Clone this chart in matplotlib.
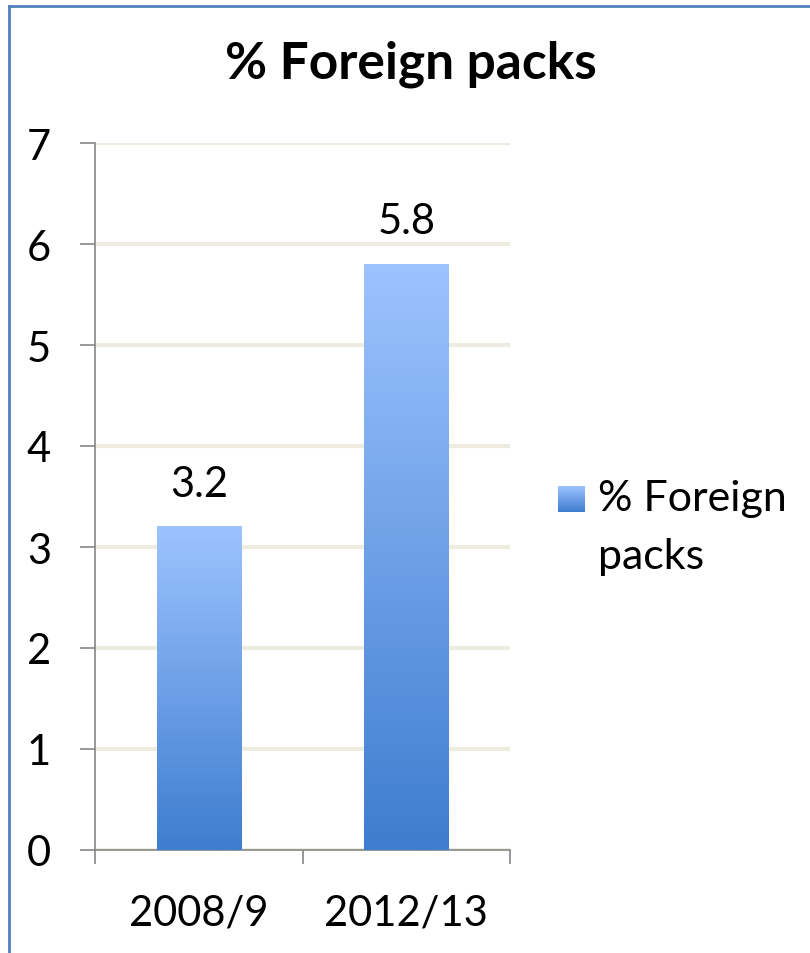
import numpy as np
import matplotlib
matplotlib.use("Agg")
import matplotlib.pyplot as plt
from matplotlib.colors import LinearSegmentedColormap
from matplotlib.lines import Line2D

plt.rcParams['font.family'] = ['Lato', 'DejaVu Sans']

# data
categories = ['2008/9', '2012/13']
values = [3.2, 5.8]
series_name = '% Foreign packs'
title = '% Foreign packs'

W, H = 810, 954
fig = plt.figure(figsize=(W / 100, H / 100), dpi=100)

# outer blue frame (only top and left visible)
fig.add_artist(Line2D([9 / W, 9 / W], [0, 1 - 7 / H], transform=fig.transFigure,
                      color='#4F81BD', lw=2))
fig.add_artist(Line2D([9 / W, 1], [1 - 7 / H, 1 - 7 / H], transform=fig.transFigure,
                      color='#4F81BD', lw=2))

# axes in pixel layout
x0, x1, ytop, ybot = 95, 510, 144, 851
ax = fig.add_axes([x0 / W, 1 - ybot / H, (x1 - x0) / W, (ybot - ytop) / H])

grad = LinearSegmentedColormap.from_list('bar', ['#3E7DCF', '#9DC3FF'])

bars = ax.bar(range(len(values)), values, width=0.405, color='none', zorder=3)
for b in bars:
    bx, bw, bh = b.get_x(), b.get_width(), b.get_height()
    img = np.linspace(0, 1, 256).reshape(-1, 1)
    ax.imshow(img, cmap=grad, origin='lower', aspect='auto',
              extent=[bx, bx + bw, 0, bh], zorder=3)
    ax.text(bx + bw / 2, bh + 0.24, f'{bh:.1f}', ha='center', va='bottom',
            fontsize=30)

ax.set_xlim(-0.5, len(values) - 0.5)
ax.set_ylim(0, 7)
ax.set_yticks(range(0, 8))
ax.set_xticks([-0.5, 0.5, 1.5], minor=False)
ax.set_xticklabels([])
ax.set_xticks(range(len(values)), minor=True)
ax.set_xticklabels(categories, minor=True, fontsize=30)
ax.tick_params(axis='x', which='minor', length=0, pad=31)
ax.tick_params(axis='x', which='major', length=10, width=1.2, color='#868686')
ax.tick_params(axis='y', length=11, width=1.2, color='#868686', labelsize=30, pad=38)
for lab in ax.get_yticklabels():
    lab.set_horizontalalignment('left')
ax.yaxis.grid(True, color='#EEECE1', lw=3, zorder=0)
ax.set_axisbelow(True)
for s in ['top', 'right']:
    ax.spines[s].set_visible(False)
for s in ['left', 'bottom']:
    ax.spines[s].set_color('#868686')
    ax.spines[s].set_linewidth(1.2)

# title
fig.text(411 / W, 1 - 64 / H, title, ha='center', va='center',
         fontsize=37, fontweight='bold')

# legend
lax = fig.add_axes([558 / W, 1 - 513 / H, 27 / W, 26 / H])
lax.imshow(np.linspace(0, 1, 64).reshape(-1, 1), cmap=grad, origin='lower',
           aspect='auto')
lax.axis('off')
words = series_name.rsplit(' ', 1)
fig.text(598 / W, 1 - 499 / H, words[0], ha='left', va='center', fontsize=31)
fig.text(598 / W, 1 - 557 / H, words[1], ha='left', va='center', fontsize=31)

fig.savefig('out.png', dpi=100)
